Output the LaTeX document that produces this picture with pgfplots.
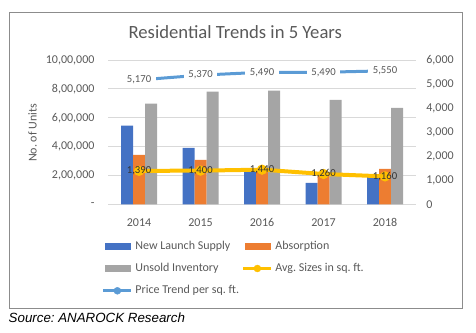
\documentclass[border=0pt]{standalone}
\usepackage{pgfplots}
\pgfplotsset{compat=1.18}
\usepackage{fontspec}
\setmainfont{Carlito}
\newfontfamily\arialfont{Liberation Sans}
\definecolor{cBlue}{HTML}{4472C4}
\definecolor{cOrange}{HTML}{ED7D31}
\definecolor{cGrey}{HTML}{A5A5A5}
\definecolor{cYellow}{HTML}{FFC000}
\definecolor{cLBlue}{HTML}{5B9BD5}
\definecolor{cText}{HTML}{595959}
\definecolor{cGrid}{HTML}{D9D9D9}
\definecolor{cFrame}{HTML}{8C8C8C}
\pgfplotsset{
  base/.style={scale only axis, width=307.5pt, height=144.3pt,
    at={(108.3pt,127.7pt)}, anchor=south west, xmin=-0.5, xmax=4.5,
    axis line style={draw=none}, major tick style={draw=none}, minor tick style={draw=none},
    ticklabel style={font=\fontsize{12}{14}\selectfont, text=cText}, clip=false},
}
\newcommand{\cw}[1]{\makebox[104pt][l]{#1}}
\begin{document}
\frenchspacing
\begin{tikzpicture}
\useasboundingbox (0,0) rectangle (476pt,332pt);
\draw[cFrame, line width=0.9pt] (9pt,320pt) rectangle (462pt,24pt);
\node[anchor=base, inner sep=0pt, text=cText, font=\fontsize{18.67}{22}\selectfont] at (235.3pt,293pt) {Residential Trends in 5 Years};
\node[rotate=90, inner sep=0pt, text=cText, font=\fontsize{12}{14}\selectfont] at (32.5pt,199pt) {No. of Units};
\node[anchor=west, inner sep=0pt, font=\arialfont\fontsize{13.33}{16}\selectfont\itshape] at (8.5pt,14pt) {Source: ANAROCK Research};

\begin{axis}[base, ybar=0pt, bar width=12pt, ymin=0, ymax=1000000,
  xtick={0,1,2,3,4}, xticklabels={2014,2015,2016,2017,2018},
  xticklabel style={yshift=-6.7pt},
  ytick={0,200000,400000,600000,800000,1000000},
  yticklabels={-,{2,00,000},{4,00,000},{6,00,000},{8,00,000},{10,00,000}},
  yticklabel style={xshift=-10.3pt},
  scaled y ticks=false,
  ymajorgrids, grid style={cGrid, line width=0.75pt}]
\addplot[fill=cBlue, draw=none] coordinates {(0,545000) (1,391000) (2,231000) (3,148000) (4,191000)};
\addplot[fill=cOrange, draw=none] coordinates {(0,342000) (1,308000) (2,234000) (3,200000) (4,245000)};
\addplot[fill=cGrey, draw=none] coordinates {(0,697000) (1,780000) (2,787000) (3,724000) (4,669000)};
\end{axis}

\begin{axis}[base, ymin=0, ymax=6000, axis y line*=right, hide x axis,
  ytick={0,1000,2000,3000,4000,5000,6000},
  yticklabels={0,{1,000},{2,000},{3,000},{4,000},{5,000},{6,000}},
  yticklabel style={xshift=7pt},
  legend columns=2,
  legend cell align=left,
  legend style={at={(axis description cs:-0.0215,-0.2117)}, anchor=north west,
    draw=none, fill=none, inner sep=0pt, column sep=0pt, row sep=0pt,
    font=\fontsize{12}{14}\selectfont, text=cText,
    nodes={inner xsep=2.5pt, inner ysep=5.15pt, text height=9pt, text depth=3pt}}]
\addlegendimage{legend image code/.code={\fill[cBlue] (-12.5pt,-3pt) rectangle (12.5pt,3pt);}}
\addlegendimage{legend image code/.code={\fill[cOrange] (-12.5pt,-3pt) rectangle (12.5pt,3pt);}}
\addlegendimage{legend image code/.code={\fill[cGrey] (-12.5pt,-3pt) rectangle (12.5pt,3pt);}}
\addlegendimage{legend image code/.code={\draw[cYellow, line width=3pt] (-14pt,0pt) -- (14pt,0pt); \fill[cYellow] (0pt,0pt) circle (3.5pt);}}
\addlegendimage{legend image code/.code={\draw[cLBlue, line width=3pt] (-14pt,0pt) -- (14pt,0pt); \fill[cLBlue] (0pt,0pt) circle (3.5pt);}}
\addplot[forget plot, cYellow, line width=4pt, mark=*, mark size=3pt,
  point meta=explicit symbolic, nodes near coords, nodes near coords align=center,
  every node near coord/.append style={anchor=center, text=black!80, inner sep=1pt, font=\fontsize{10.67}{12}\selectfont}]
  coordinates {(0,1390) [1,390] (1,1400) [1,400] (2,1440) [1,440] (3,1260) [1,260] (4,1160) [1,160]};
\addplot[forget plot, cLBlue, line width=3pt, mark=*, mark size=2.5pt,
  point meta=explicit symbolic, nodes near coords, nodes near coords align=center,
  every node near coord/.append style={anchor=center, fill=white, text=cText, inner xsep=4.5pt, inner ysep=1.5pt, font=\fontsize{10.67}{12}\selectfont}]
  coordinates {(0,5170) [5,170] (1,5370) [5,370] (2,5490) [5,490] (3,5490) [5,490] (4,5550) [5,550]};
\legend{\cw{New Launch Supply}, Absorption, \cw{Unsold Inventory}, Avg. Sizes in sq. ft., \cw{Price Trend per sq. ft.}}
\end{axis}
\end{tikzpicture}
\end{document}
